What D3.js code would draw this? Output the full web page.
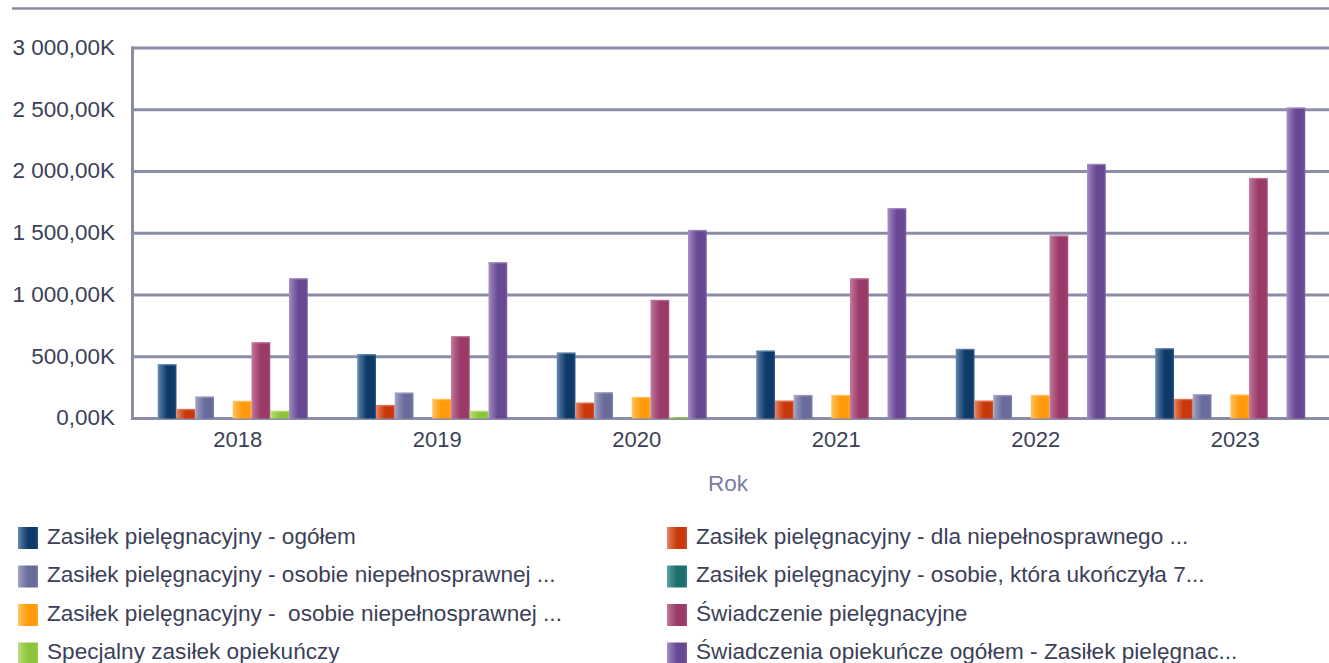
<!DOCTYPE html>
<html lang="pl">
<head>
<meta charset="utf-8">
<script src="https://cdn.jsdelivr.net/npm/d3@7/dist/d3.min.js"></script>
<style>
  html, body { margin: 0; padding: 0; background: #ffffff; }
  svg { display: block; font-family: "Liberation Sans", Arial, sans-serif; }
</style>
</head>
<body>
<svg id="chart" width="1329" height="663"></svg>
<script>
// Years on the category axis
const years = ["2018", "2019", "2020", "2021", "2022", "2023"];

// Series names (legend order = bar order within a year)
const seriesNames = [
  "Zasiłek pielęgnacyjny - ogółem",
  "Zasiłek pielęgnacyjny - dla niepełnosprawnego ...",
  "Zasiłek pielęgnacyjny - osobie niepełnosprawnej ...",
  "Zasiłek pielęgnacyjny - osobie, która ukończyła 7...",
  "Zasiłek pielęgnacyjny -  osobie niepełnosprawnej ...",
  "Świadczenie pielęgnacyjne",
  "Specjalny zasiłek opiekuńczy",
  "Świadczenia opiekuńcze ogółem - Zasiłek pielęgnac..."
];

// Values in thousands, one array per series, ordered by year
const zpOgolem        = [439, 520, 533, 549, 563, 568];
const zpNiepelnospr   = [77, 109, 128, 144, 144, 158];
const zpOsobieNiep    = [177, 209, 212, 190, 190, 196];
const zpPo75          = [0, 0, 0, 0, 0, 0];
const zpOsobieNiep2   = [142, 158, 174, 190, 190, 193];
const swPielegnacyjne = [617, 666, 960, 1135, 1481, 1947];
const specjalnyZasilek = [61, 61, 12, 0, 0, 0];
const swOgolem        = [1135, 1265, 1526, 1703, 2061, 2517];

const seriesValues = [zpOgolem, zpNiepelnospr, zpOsobieNiep, zpPo75,
                      zpOsobieNiep2, swPielegnacyjne, specjalnyZasilek, swOgolem];

// Y axis ticks
const yTicks = [0, 500, 1000, 1500, 2000, 2500, 3000];
const yTickLabels = ["0,00K", "500,00K", "1 000,00K", "1 500,00K",
                     "2 000,00K", "2 500,00K", "3 000,00K"];

// Bar shading: [light edge, base]
const palette = [
  ["#6a8db3", "#0e3a6a"],
  ["#e8896a", "#c8380a"],
  ["#a6a7c8", "#696b9b"],
  ["#5fa7a3", "#1a6f6c"],
  ["#ffc766", "#ff9a0a"],
  ["#c47ea0", "#9a3a69"],
  ["#bde07e", "#8cc43a"],
  ["#a692c6", "#674893"]
];

const svg = d3.select("#chart");
const W = 1329;
const gridColor = "#8b8ca8";
const textColor = "#3c3f58";

const plot = { left: 133, right: 1330, top: 48, bottom: 418.5 };

const y = d3.scaleLinear().domain([0, 3000]).range([plot.bottom, plot.top]);
const x0 = d3.scaleBand().domain(years).range([plot.left, plot.right])
  .paddingInner(0.248).paddingOuter(0.124);
const x1 = d3.scaleBand().domain(d3.range(seriesNames.length)).range([0, x0.bandwidth()]);

// Gradients
const defs = svg.append("defs");
palette.forEach((c, i) => {
  const g = defs.append("linearGradient").attr("id", "grad" + i)
    .attr("x1", "0%").attr("x2", "100%").attr("y1", "0%").attr("y2", "0%");
  g.append("stop").attr("offset", "0%").attr("stop-color", c[0]);
  g.append("stop").attr("offset", "18%").attr("stop-color", d3.interpolateRgb(c[0], c[1])(0.45));
  g.append("stop").attr("offset", "50%").attr("stop-color", c[1]);
  g.append("stop").attr("offset", "88%").attr("stop-color", c[1]);
  g.append("stop").attr("offset", "100%").attr("stop-color", d3.interpolateRgb(c[1], c[0])(0.35));
});

// Separator line at the top
svg.append("line").attr("x1", 12).attr("x2", W).attr("y1", 8.5).attr("y2", 8.5)
  .attr("stroke", gridColor).attr("stroke-width", 2.5);

// Gridlines
svg.append("g").selectAll("line").data(yTicks).join("line")
  .attr("x1", plot.left - 1.5).attr("x2", W)
  .attr("y1", d => y(d)).attr("y2", d => y(d))
  .attr("stroke", gridColor).attr("stroke-width", 3);

// Vertical axis line
svg.append("line").attr("x1", plot.left - 0.5).attr("x2", plot.left - 0.5)
  .attr("y1", y(3000) - 1.5).attr("y2", y(0) + 1.5)
  .attr("stroke", gridColor).attr("stroke-width", 3);

// Y tick labels
svg.append("g").selectAll("text").data(yTicks).join("text")
  .attr("x", 115).attr("y", d => y(d) + 1)
  .attr("text-anchor", "end").attr("dominant-baseline", "middle")
  .attr("font-size", 22.5).attr("fill", textColor)
  .text((d, i) => yTickLabels[i]);

// Bars
const groups = svg.append("g").selectAll("g").data(years).join("g")
  .attr("transform", d => `translate(${x0(d)},0)`);

groups.selectAll("rect").data((yr, yi) => seriesValues.map((vals, si) => ({ si, v: vals[yi] })))
  .join("rect")
  .filter(d => d.v > 0)
  .attr("x", d => x1(d.si))
  .attr("width", x1.bandwidth())
  .attr("y", d => y(d.v))
  .attr("height", d => y(0) - y(d.v))
  .attr("fill", d => `url(#grad${d.si})`);

// Pale highlight on bar tops
groups.selectAll("line.top").data((yr, yi) => seriesValues.map((vals, si) => ({ si, v: vals[yi] })).filter(d => d.v > 20))
  .join("line").attr("class", "top")
  .attr("x1", d => x1(d.si)).attr("x2", d => x1(d.si) + x1.bandwidth())
  .attr("y1", d => y(d.v) + 0.5).attr("y2", d => y(d.v) + 0.5)
  .attr("stroke", d => palette[d.si][0]).attr("stroke-opacity", 0.7).attr("stroke-width", 1.5);

// X labels
svg.append("g").selectAll("text").data(years).join("text")
  .attr("x", d => x0(d) + x0.bandwidth() / 2 + 5).attr("y", 441)
  .attr("text-anchor", "middle").attr("dominant-baseline", "middle")
  .attr("font-size", 22).attr("fill", textColor)
  .text(d => d);

// X axis title
svg.append("text").attr("x", 728).attr("y", 485)
  .attr("text-anchor", "middle").attr("dominant-baseline", "middle")
  .attr("font-size", 22.5).attr("fill", "#7b7ca3").text("Rok");

// Legend: two columns, four rows
const legendCols = [18, 667];
const legendRows = [538, 576.5, 615, 653.5];
const legend = svg.append("g").selectAll("g").data(seriesNames).join("g")
  .attr("transform", (d, i) => `translate(${legendCols[i % 2]},${legendRows[Math.floor(i / 2)]})`);

legend.append("rect").attr("x", 0).attr("y", -11).attr("width", 20).attr("height", 22)
  .attr("fill", (d, i) => `url(#grad${i})`);
legend.append("text").attr("x", 29).attr("y", 0)
  .attr("dominant-baseline", "middle").attr("font-size", 22.6)
  .attr("fill", textColor).style("white-space", "pre")
  .text(d => d);
</script>
</body>
</html>
